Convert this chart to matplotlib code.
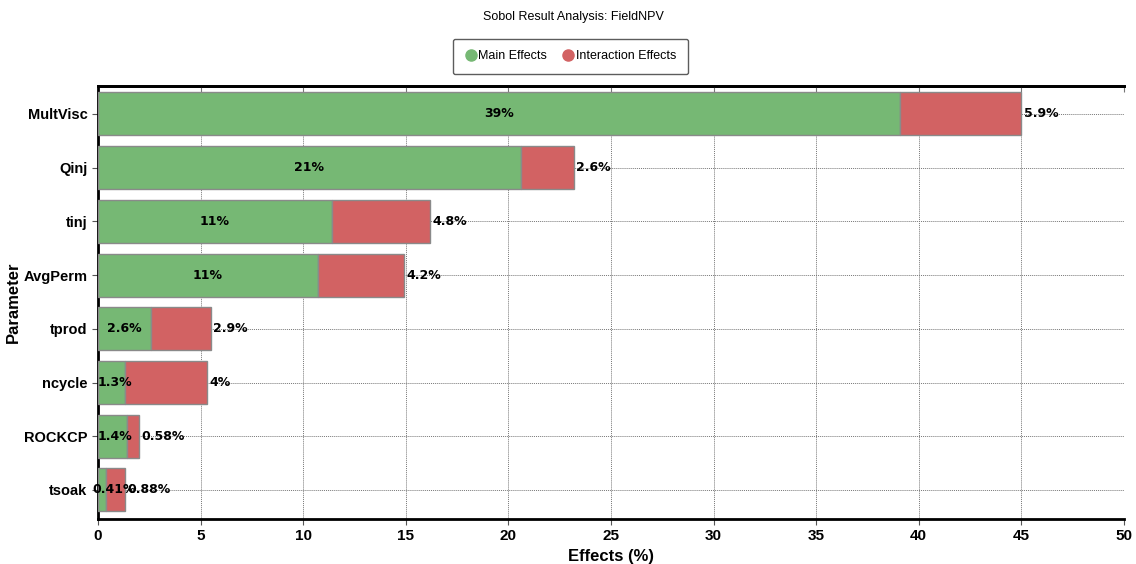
import numpy as np
import matplotlib
matplotlib.use("Agg")
import matplotlib.pyplot as plt

params = ["MultVisc", "Qinj", "tinj", "AvgPerm", "tprod", "ncycle", "ROCKCP", "tsoak"]
main_effects = [39.1, 20.6, 11.4, 10.7, 2.6, 1.3, 1.4, 0.41]
interaction_effects = [5.9, 2.6, 4.8, 4.2, 2.9, 4.0, 0.58, 0.88]
x_ticks = [0, 5, 10, 15, 20, 25, 30, 35, 40, 45, 50]

GREEN = "#76b874"
RED = "#d26263"

plt.rcParams.update({
    "font.family": ["Liberation Sans", "DejaVu Sans"],
    "font.size": 10,
})

fig = plt.figure(figsize=(11.36, 5.64), dpi=100)
ax = fig.add_axes([0.0863, 0.0798, 0.903, 0.7677])

y = np.arange(len(params))
main = np.array(main_effects)
inter = np.array(interaction_effects)

ax.barh(y, main, height=0.8, color=GREEN, edgecolor="#8a8a8a", lw=1.0,
        label="Main Effects", zorder=3)
ax.barh(y, inter, left=main, height=0.8, color=RED, edgecolor="#8a8a8a", lw=1.0,
        label="Interaction Effects", zorder=3)

for yi, m, it in zip(y, main, inter):
    ax.text(max(m / 2, 0.8), yi, f"{m:.2g}%", ha="center", va="center",
            fontsize=9, fontweight="bold", family="DejaVu Sans", zorder=4)
    ax.text(m + it + 0.12, yi, f"{it:.2g}%", ha="left", va="center",
            fontsize=9, fontweight="bold", family="DejaVu Sans", zorder=4)

ax.set_xlim(0, 50)
ax.set_ylim(len(params) - 0.46, -0.52)
ax.set_yticks(y)
ax.set_yticklabels(params, fontweight="bold", fontsize=10.5)
ax.set_xticks(x_ticks)
ax.set_xticklabels([str(t) for t in x_ticks], fontweight="bold", fontsize=11)
ax.tick_params(axis="both", length=4, width=0.8, color="#555555")
ax.grid(True, color="#777777", ls=(0, (1, 1)), lw=0.7, zorder=0)

# small inward ticks along the top edge
top = ax.secondary_xaxis("top")
top.set_xticks(x_ticks)
top.tick_params(direction="in", length=4, width=0.8, color="#777777", labeltop=False)
top.spines["top"].set_linewidth(2.0)

for side in ["top", "bottom", "left"]:
    ax.spines[side].set_linewidth(2.0)
ax.spines["right"].set_visible(False)

ax.set_xlabel("Effects (%)", fontweight="bold", fontsize=12, labelpad=4)
ax.set_ylabel("Parameter", fontweight="bold", fontsize=12, labelpad=2)

fig.suptitle("Sobol Result Analysis: FieldNPV", x=0.505, y=0.98, fontsize=9)

handles = [
    plt.Line2D([], [], marker="o", ls="", color=GREEN, markersize=8),
    plt.Line2D([], [], marker="o", ls="", color=RED, markersize=8),
]
leg = fig.legend(handles, ["Main Effects", "Interaction Effects"], loc="center",
                 bbox_to_anchor=(0.502, 0.9), ncol=2, frameon=True,
                 fontsize=9, handletextpad=0.1, columnspacing=1.2,
                 borderpad=0.95, handlelength=1.0, fancybox=True)
leg.get_frame().set_edgecolor("#333333")
leg.get_frame().set_linewidth(1.0)

fig.savefig("out.png", dpi=100)
